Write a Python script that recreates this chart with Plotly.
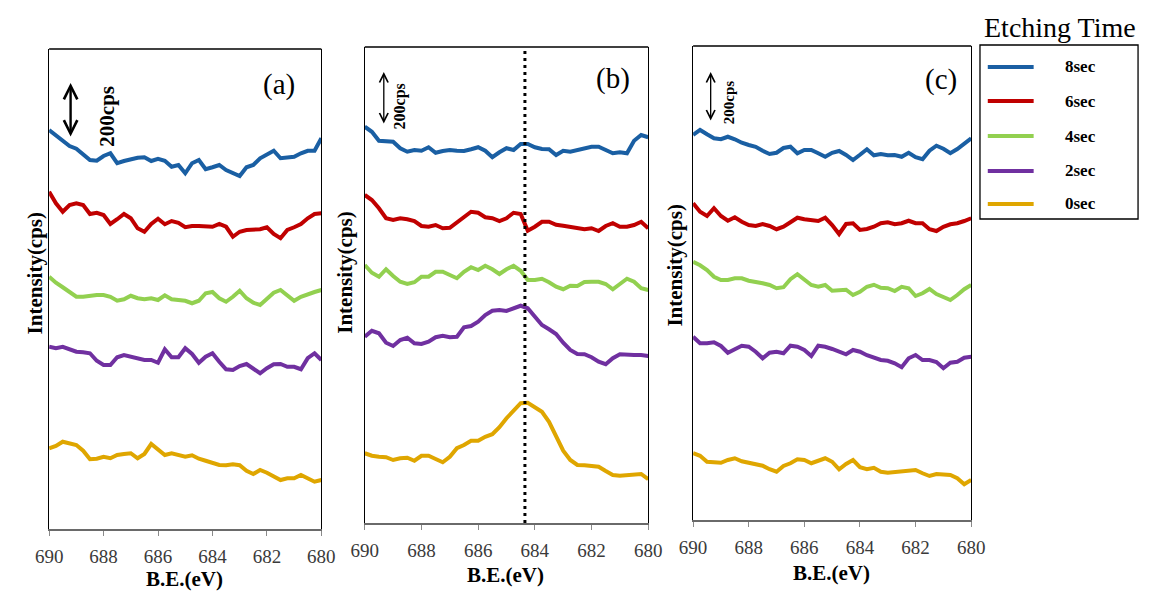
import plotly.graph_objects as go

# ---------------- data ----------------
energy = [690.0, 689.75, 689.5, 689.25, 689.0, 688.75, 688.5, 688.25, 688.0, 687.75,
          687.5, 687.25, 687.0, 686.75, 686.5, 686.25, 686.0, 685.75, 685.5, 685.25,
          685.0, 684.75, 684.5, 684.25, 684.0, 683.75, 683.5, 683.25, 683.0, 682.75,
          682.5, 682.25, 682.0, 681.75, 681.5, 681.25, 681.0, 680.75, 680.5, 680.25, 680.0]

series_names = ["8sec", "6sec", "4sec", "2sec", "0sec"]
series_colors = ["#1a5fa3", "#c00000", "#92d050", "#7030a0", "#dfa600"]

# panel (a)  -- intensity (cps, offset for display)
a_8s = [1596, 1576, 1553, 1532, 1521, 1499, 1476, 1473, 1492, 1503, 1463, 1472, 1479, 1485, 1487, 1472, 1481, 1473, 1449, 1456,
        1423, 1463, 1476, 1439, 1447, 1456, 1436, 1425, 1412, 1447, 1456, 1483, 1500, 1513, 1483, 1487, 1489, 1503, 1513, 1513, 1563]
a_6s = [1349, 1303, 1269, 1296, 1303, 1296, 1260, 1265, 1256, 1220, 1239, 1260, 1243, 1203, 1189, 1220, 1241, 1219, 1232, 1225,
        1207, 1212, 1212, 1209, 1209, 1220, 1209, 1169, 1189, 1196, 1199, 1199, 1207, 1180, 1163, 1196, 1207, 1220, 1243, 1260, 1263]
a_4s = [1009, 985, 967, 949, 929, 929, 933, 936, 936, 929, 913, 919, 933, 923, 919, 923, 916, 935, 919, 916,
        913, 903, 913, 943, 948, 923, 909, 929, 953, 923, 905, 896, 919, 945, 956, 936, 913, 929, 940, 948, 956]
a_2s = [729, 723, 729, 720, 709, 707, 703, 673, 656, 656, 687, 696, 689, 683, 676, 676, 665, 719, 687, 687,
        723, 700, 665, 689, 703, 669, 639, 636, 652, 660, 639, 623, 643, 659, 660, 649, 649, 639, 683, 703, 676]
a_0s = [323, 332, 349, 343, 336, 313, 279, 281, 289, 283, 296, 300, 303, 283, 300, 340, 319, 296, 303, 295,
        289, 295, 281, 273, 265, 256, 255, 259, 255, 233, 220, 236, 225, 209, 196, 203, 203, 216, 203, 189, 196]

# panel (b)
b_8s = [1585, 1565, 1529, 1529, 1525, 1499, 1485, 1492, 1489, 1503, 1481, 1488, 1492, 1489, 1488, 1495, 1503, 1489, 1463, 1483,
        1499, 1492, 1516, 1516, 1503, 1496, 1495, 1472, 1489, 1485, 1492, 1501, 1505, 1505, 1492, 1479, 1483, 1479, 1529, 1552, 1543]
b_6s = [1312, 1292, 1259, 1219, 1212, 1219, 1215, 1208, 1188, 1185, 1192, 1179, 1181, 1201, 1225, 1245, 1241, 1223, 1219, 1208,
        1219, 1241, 1236, 1169, 1185, 1205, 1205, 1193, 1189, 1183, 1179, 1175, 1179, 1168, 1188, 1199, 1185, 1185, 1192, 1205, 1179]
b_4s = [1032, 1001, 985, 1015, 988, 965, 956, 963, 985, 985, 1005, 1005, 992, 979, 1005, 1023, 1012, 1029, 1015, 996,
        1015, 1029, 1009, 972, 972, 977, 963, 945, 935, 949, 948, 964, 965, 965, 956, 935, 956, 977, 965, 939, 932]
b_2s = [745, 769, 759, 721, 708, 732, 741, 719, 716, 725, 743, 749, 743, 745, 783, 788, 805, 832, 849, 852,
        848, 860, 869, 859, 828, 792, 775, 756, 721, 692, 676, 675, 663, 645, 635, 659, 675, 672, 672, 672, 668]
b_0s = [279, 269, 265, 263, 252, 259, 261, 249, 269, 269, 256, 243, 265, 299, 312, 329, 329, 345, 355, 383,
        419, 449, 479, 481, 465, 445, 405, 345, 289, 252, 232, 231, 228, 225, 208, 192, 189, 192, 192, 196, 175]

# panel (c)
c_8s = [1540, 1560, 1543, 1527, 1523, 1533, 1523, 1509, 1500, 1493, 1477, 1464, 1469, 1488, 1493, 1467, 1480, 1480, 1467, 1453,
        1469, 1476, 1460, 1440, 1461, 1483, 1459, 1464, 1459, 1460, 1453, 1469, 1451, 1443, 1477, 1497, 1485, 1467, 1484, 1504, 1527]
c_6s = [1267, 1233, 1216, 1247, 1216, 1197, 1211, 1193, 1180, 1176, 1184, 1176, 1163, 1173, 1191, 1209, 1203, 1200, 1196, 1209,
        1180, 1144, 1184, 1187, 1160, 1164, 1173, 1187, 1191, 1183, 1187, 1197, 1187, 1187, 1163, 1156, 1173, 1183, 1187, 1196, 1207]
c_4s = [1033, 1019, 1000, 973, 960, 960, 967, 967, 957, 953, 947, 940, 927, 931, 963, 983, 963, 940, 933, 940,
        917, 920, 921, 900, 913, 933, 941, 929, 927, 916, 933, 927, 896, 907, 924, 904, 893, 880, 900, 923, 940]
c_2s = [733, 707, 707, 711, 696, 669, 683, 697, 693, 673, 647, 669, 673, 667, 697, 693, 680, 656, 697, 693,
        684, 673, 663, 680, 673, 659, 648, 640, 637, 627, 611, 647, 660, 640, 640, 632, 607, 629, 633, 649, 653]
c_0s = [267, 257, 233, 232, 229, 240, 247, 235, 229, 224, 217, 203, 193, 216, 227, 243, 240, 227, 237, 247,
        233, 203, 224, 240, 211, 203, 209, 193, 189, 192, 193, 197, 200, 187, 176, 184, 184, 180, 167, 143, 160]

x_ticks = [690, 688, 686, 684, 682, 680]
peak_marker = 684.35
scale_label = "200cps"
panel_labels = ["(a)", "(b)", "(c)"]
legend_title = "Etching Time"

# ---------------- layout helpers ----------------
W, H = 1154, 592
FONT = "Liberation Serif, Times New Roman, DejaVu Serif, serif"


def fx(px):
    return px / W


def fy(py):
    return 1 - py / H


panels = [
    dict(box=(36, 49, 315, 529), ymax=1920, data=[a_8s, a_6s, a_4s, a_2s, a_0s],
         label_xy=(272, 84), label_size=29,
         arrow=(58, 83, 138, 2.4, 1.1), scale_xy=(95, 116), scale_size=21,
         ytitle_xy=(22, 273), xtitle_xy=(175, 579)),
    dict(box=(359.5, 47, 650, 523), ymax=1904, data=[b_8s, b_6s, b_4s, b_2s, b_0s],
         label_xy=(614, 78), label_size=29,
         arrow=(379, 72, 125, 1.3, 1.3), scale_xy=(396, 106), scale_size=16,
         ytitle_xy=(339, 272), xtitle_xy=(504, 575)),
    dict(box=(696, 46, 981, 520), ymax=1896, data=[c_8s, c_6s, c_4s, c_2s, c_0s],
         label_xy=(950, 80), label_size=29,
         arrow=(714, 72, 122, 1.3, 1.3), scale_xy=(733, 102), scale_size=15,
         ytitle_xy=(677, 265), xtitle_xy=(838, 573)),
]

fig = go.Figure()
layout = dict(
    width=W, height=H,
    margin=dict(l=0, r=0, t=0, b=0),
    paper_bgcolor="white", plot_bgcolor="white",
    showlegend=False,
    font=dict(family=FONT, color="black"),
)
shapes = []
annotations = []

for k, p in enumerate(panels):
    n = "" if k == 0 else str(k + 1)
    x0, y0, x1, y1 = p["box"]
    for name, color, vals in zip(series_names, series_colors, p["data"]):
        fig.add_trace(go.Scatter(x=energy, y=vals, mode="lines", name=name,
                                 line=dict(color=color, width=4),
                                 xaxis="x" + n, yaxis="y" + n, hoverinfo="skip"))
    layout["xaxis" + n] = dict(
        domain=[fx(x0), fx(x1)], range=[690, 680], anchor="y" + n,
        tickvals=x_ticks, ticks="outside", ticklen=5, tickwidth=1, tickcolor="#8a8a8a",
        showline=True, linecolor="#6a6a6a", linewidth=1.5, mirror=False,
        showgrid=False, zeroline=False, ticklabelstandoff=4,
        tickfont=dict(family=FONT, size=19, color="#3a3a3a"))
    layout["yaxis" + n] = dict(
        domain=[fy(y1), fy(y0)], range=[0, p["ymax"]], anchor="x" + n,
        showticklabels=False, ticks="", showline=True, mirror=True,
        linecolor="black", linewidth=1.3, showgrid=False, zeroline=False)
    # top border
    shapes.append(dict(type="line", xref="paper", yref="paper",
                       x0=fx(x0), x1=fx(x1), y0=fy(y0), y1=fy(y0),
                       line=dict(color="black", width=1.3)))
    # panel label
    lx, ly = p["label_xy"]
    annotations.append(dict(text=panel_labels[k], x=fx(lx), y=fy(ly), xref="paper", yref="paper",
                            showarrow=False, xanchor="center", yanchor="middle",
                            font=dict(family=FONT, size=p["label_size"], color="black")))
    # scale arrow
    ax_, ay0, ay1, aw, asz = p["arrow"]
    annotations.append(dict(text="", x=fx(ax_), y=fy(ay0), xref="paper", yref="paper",
                            ax=0, ay=ay1 - ay0, showarrow=True, arrowhead=5, arrowside="end+start",
                            arrowsize=asz, arrowwidth=aw, arrowcolor="black",
                            startarrowhead=5, startarrowsize=asz))
    sx, sy = p["scale_xy"]
    annotations.append(dict(text="<b>" + scale_label + "</b>", x=fx(sx), y=fy(sy), xref="paper", yref="paper",
                            showarrow=False, textangle=-90, xanchor="center", yanchor="middle",
                            font=dict(family=FONT, size=p["scale_size"], color="black")))
    # axis titles
    tx, ty = p["ytitle_xy"]
    annotations.append(dict(text="<b>Intensity(cps)</b>", x=fx(tx), y=fy(ty), xref="paper", yref="paper",
                            showarrow=False, textangle=-90, xanchor="center", yanchor="middle",
                            font=dict(family=FONT, size=21, color="black")))
    tx, ty = p["xtitle_xy"]
    annotations.append(dict(text="<b>B.E.(eV)</b>", x=fx(tx), y=fy(ty), xref="paper", yref="paper",
                            showarrow=False, xanchor="center", yanchor="middle",
                            font=dict(family=FONT, size=21, color="black")))

# dotted reference line in panel (b)
shapes.append(dict(type="line", xref="x2", yref="y2 domain", x0=peak_marker, x1=peak_marker,
                   y0=0, y1=1, line=dict(color="black", width=3, dash="3px,4px")))

# legend box
shapes.append(dict(type="rect", xref="paper", yref="paper",
                   x0=fx(990), x1=fx(1152), y0=fy(219), y1=fy(45),
                   line=dict(color="black", width=1.3), fillcolor="white"))
annotations.append(dict(text=legend_title, x=fx(1072), y=fy(27), xref="paper", yref="paper",
                        showarrow=False, xanchor="center", yanchor="middle",
                        font=dict(family=FONT, size=28, color="black")))
legend_rows = [67, 101, 136, 171, 204]
for name, color, ry in zip(series_names, series_colors, legend_rows):
    shapes.append(dict(type="line", xref="paper", yref="paper",
                       x0=fx(998), x1=fx(1045), y0=fy(ry), y1=fy(ry),
                       line=dict(color=color, width=4)))
    annotations.append(dict(text="<b>" + name + "</b>", x=fx(1075), y=fy(ry), xref="paper", yref="paper",
                            showarrow=False, xanchor="left", yanchor="middle",
                            font=dict(family=FONT, size=17, color="black")))

layout["shapes"] = shapes
layout["annotations"] = annotations
fig.update_layout(**layout)
fig.write_html("out.html")
